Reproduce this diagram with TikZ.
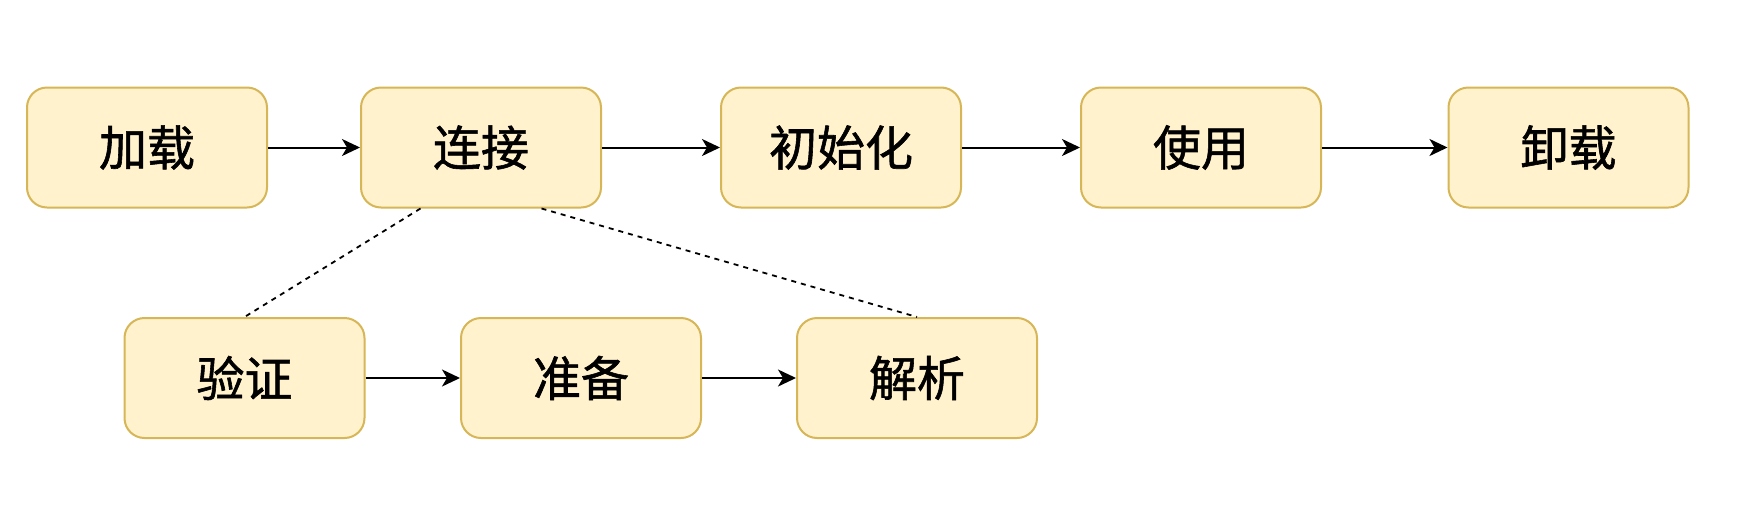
\documentclass[tikz,border=0pt]{standalone}
\usepackage{fontspec}
\newfontfamily\cjk[FakeBold=1.2]{Noto Sans CJK SC}
\usetikzlibrary{arrows.meta,calc}
\definecolor{boxfill}{HTML}{FFF2CC}
\definecolor{boxdraw}{HTML}{D6B656}
\begin{document}
\begin{tikzpicture}[x=1pt,y=-1pt,
  stepbox/.style={draw=boxdraw, fill=boxfill, line width=2pt, rounded corners=20pt,
    minimum width=240pt, minimum height=120pt, inner sep=0pt,
    font=\cjk\fontsize{48}{48}\selectfont},
  flow/.style={line width=2pt, -{Stealth[length=18pt,width=17pt,inset=5pt]}},
  link/.style={line width=1.8pt, dash pattern=on 5pt off 5pt}]
\useasboundingbox (0,0) rectangle (1738,504);
\node[stepbox] (load) at (147,147.5) {加载};
\node[stepbox] (link) at (481,147.5) {连接};
\node[stepbox] (init) at (841,147.5) {初始化};
\node[stepbox] (use) at (1201,147.5) {使用};
\node[stepbox] (unload) at (1568.5,147.5) {卸载};
\node[stepbox] (verify) at (244.5,378) {验证};
\node[stepbox] (prep) at (581,378) {准备};
\node[stepbox] (resolve) at (917,378) {解析};
\draw[flow] (load) -- (link);
\draw[flow] (link) -- (init);
\draw[flow] (init) -- (use);
\draw[flow] (use) -- (unload);
\draw[flow] (verify) -- (prep);
\draw[flow] (prep) -- (resolve);
\draw[link] ($(link.south west)!0.25!(link.south east)$) -- (verify.north);
\draw[link] ($(link.south west)!0.75!(link.south east)$) -- (resolve.north);
\end{tikzpicture}
\end{document}
